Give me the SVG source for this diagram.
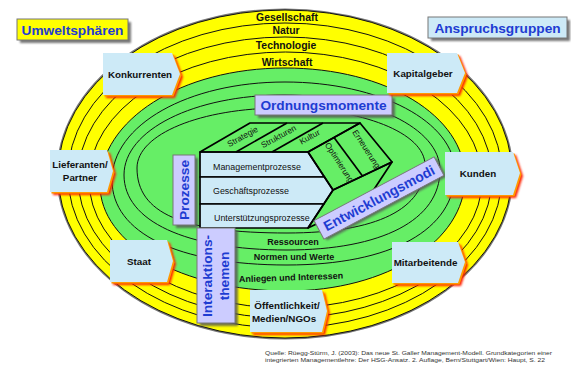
<svg xmlns="http://www.w3.org/2000/svg" width="571" height="365" viewBox="0 0 571 365">
<defs>
<filter id="blur" x="-20%" y="-20%" width="140%" height="140%"><feGaussianBlur stdDeviation="0.9"/></filter>
<style>
text{font-family:"Liberation Sans",Arial,sans-serif;}
.ring{fill:#ffff00;stroke:#111;stroke-width:1;}
.gring{fill:none;stroke:#111;stroke-width:1;}
.rt{font-size:10.4px;font-weight:bold;fill:#111;text-anchor:middle;}
.gt{font-size:9px;font-weight:bold;fill:#111;text-anchor:middle;}
.node{fill:#cdeaf7;stroke:none;}
.sh1{fill:#ff2200;filter:url(#blur);}
.sh2{fill:#ff9900;}
.nt{font-size:9.8px;font-weight:bold;fill:#111;text-anchor:middle;}
.lab{fill:#ccccff;stroke:#777;stroke-width:1;}
.lsh{fill:#555;filter:url(#blur);opacity:0.8;}
.big{font-size:13.7px;font-weight:bold;fill:#1e3cd2;text-anchor:middle;}
.blk{stroke:#000;stroke-width:1.7;stroke-linejoin:round;}
.row{fill:#cdeaf7;}
.face{fill:none;}
.pt{font-size:8.9px;fill:#111;}
.ft{font-size:8.4px;fill:#111;text-anchor:middle;}
.src{font-size:6px;fill:#333;}
</style>
</defs>
<rect width="571" height="365" fill="#ffffff"/>

<g id="rings">
<ellipse cx="285" cy="174" rx="227" ry="164" fill="none" stroke="#777" stroke-width="3"/>
<ellipse class="ring" cx="285" cy="174" rx="227" ry="164"/>
<ellipse class="ring" cx="285" cy="175.5" rx="217" ry="152.5"/>
<ellipse class="ring" cx="285" cy="177.5" rx="207" ry="140.5"/>
<ellipse class="ring" cx="285.5" cy="180" rx="196.5" ry="128"/>
<path d="M285,68 C386,68 465,116 465,178 C465,241 387,291 287,291 C182,291 100,244 100,185 C100,120 181,68 285,68Z" fill="#66ee66" stroke="#111" stroke-width="1"/>
<path class="gring" d="M285,82 C380,82 455,122 455,172 C455,230 391,265 287,265 C178,265 112,233 112,180 C112,125 188,82 285,82Z"/>
<path class="gring" d="M284,95 C371,95 440,128 440,170 C440,220 382,250 287,250 C186,250 124,221 124,175 C124,130 194,95 284,95Z"/>
<path class="gring" d="M282,108 C362,108 425,133 425,165 C425,209 377,233 287,233 C182,233 137,213 137,168 C137,134 201,108 282,108Z"/>
<text class="rt" x="287" y="20.5">Gesellschaft</text>
<text class="rt" x="286" y="33.5">Natur</text>
<text class="rt" x="286" y="48.5">Technologie</text>
<text class="rt" x="287" y="65.5">Wirtschaft</text>
<text class="gt" x="293" y="245">Ressourcen</text>
<text class="gt" x="294" y="259.5">Normen und Werte</text>
<text class="gt" x="291" y="280.5" transform="rotate(-2 291 277)">Anliegen und Interessen</text>
</g>

<g id="prozessblock">
<polygon class="blk row" points="200,152 308,152 324.4,177 200,177"/>
<polygon class="blk row" points="200,177 324.4,177 333,190 323.8,204 200,204"/>
<polygon class="blk row" points="200,204 323.8,204 308,228 200,228"/>
<polygon class="blk face" points="200,152 250,123 360,123 308,152"/>
<line class="blk" x1="236" y1="152" x2="287" y2="123"/>
<line class="blk" x1="272" y1="152" x2="323" y2="123"/>
<polygon class="blk face" points="308,152 360,123 392,162 333,190"/>
<line class="blk" x1="334" y1="137.5" x2="362.5" y2="176"/>
<polygon class="blk face" points="333,190 392,162 367,200 308,228"/>
<text class="pt" x="213" y="170">Managementprozesse</text>
<text class="pt" x="213" y="194">Geschäftsprozesse</text>
<text class="pt" x="214" y="221">Unterstützungsprozesse</text>
<text class="ft" transform="translate(244,139) rotate(-29)">Strategie</text>
<text class="ft" transform="translate(280,139) rotate(-29)">Strukturen</text>
<text class="ft" transform="translate(311,139.5) rotate(-29)">Kultur</text>
<text class="ft" transform="translate(337,164) rotate(57)">Optimierung</text>
<text class="ft" transform="translate(364,150.5) rotate(57)">Erneuerung</text>
</g>

<g id="ordnungsmomente">
<rect class="lsh" x="258" y="98" width="137" height="20"/>
<rect class="lab" x="255" y="95" width="137" height="20"/>
<text class="big" x="323.5" y="110">Ordnungsmomente</text>
</g>

<g id="prozesse">
<rect class="lsh" x="176" y="158" width="22" height="70"/>
<rect class="lab" x="173" y="155" width="22" height="70"/>
<text class="big" transform="translate(184,190) rotate(-90)" y="5">Prozesse</text>
</g>

<g id="interaktionsthemen">
<rect class="lsh" x="200" y="231" width="38" height="95"/>
<rect class="lab" x="197" y="228" width="38" height="95"/>
<g transform="translate(216,276) rotate(-90)">
<text class="big" y="-4">Interaktions-</text>
<text class="big" y="13">themen</text>
</g>
</g>

<g id="entwicklungsmodi" transform="translate(379,198) rotate(-28)">
<rect class="lsh" x="-66" y="-8" width="136" height="21"/>
<rect class="lab" x="-68" y="-10.5" width="136" height="21"/>
<text class="big" style="font-size:14px" y="5">Entwicklungsmodi</text>
</g>

<g id="konkurrenten">
<polygon class="sh1" points="106,56 175,56 183,77 175,98 106,98"/>
<polygon class="sh2" points="104.5,54.5 173.5,54.5 181.5,75.5 173.5,96.5 104.5,96.5"/>
<polygon class="node" points="103,53 172,53 180,74 172,95 103,95"/>
<text class="nt" x="140" y="77.5">Konkurrenten</text>
</g>

<g id="kapitalgeber">
<polygon class="sh1" points="390,56 460,56 468,76 460,96 390,96"/>
<polygon class="sh2" points="388.5,54.5 458.5,54.5 466.5,74.5 458.5,94.5 388.5,94.5"/>
<polygon class="node" points="387,53 457,53 465,73 457,93 387,93"/>
<text class="nt" x="423" y="77">Kapitalgeber</text>
</g>

<g id="lieferanten">
<polygon class="sh1" points="53,153 110,153 116,174 110,195 53,195"/>
<polygon class="sh2" points="51.5,151.5 108.5,151.5 114.5,172.5 108.5,193.5 51.5,193.5"/>
<polygon class="node" points="50,150 107,150 113,171 107,192 50,192"/>
<text class="nt" x="80" y="168">Lieferanten/</text>
<text class="nt" x="80" y="180.5">Partner</text>
</g>

<g id="staat">
<polygon class="sh1" points="113,243 170,243 176,264 170,285 113,285"/>
<polygon class="sh2" points="111.5,241.5 168.5,241.5 174.5,262.5 168.5,283.5 111.5,283.5"/>
<polygon class="node" points="110,240 167,240 173,261 167,282 110,282"/>
<text class="nt" x="139" y="265">Staat</text>
</g>

<g id="kunden">
<polygon class="sh1" points="448,155 516,155 523,176 516,198 448,198"/>
<polygon class="sh2" points="446.5,153.5 514.5,153.5 521.5,174.5 514.5,196.5 446.5,196.5"/>
<polygon class="node" points="445,152 513,152 520,173 513,195 445,195"/>
<text class="nt" x="478" y="177">Kunden</text>
</g>

<g id="mitarbeitende">
<polygon class="sh1" points="395,245 461,245 468,265 461,286 395,286"/>
<polygon class="sh2" points="393.5,243.5 459.5,243.5 466.5,263.5 459.5,284.5 393.5,284.5"/>
<polygon class="node" points="392,242 458,242 465,262 458,283 392,283"/>
<text class="nt" x="425.5" y="266">Mitarbeitende</text>
</g>

<g id="oeffentlichkeit">
<polygon class="sh1" points="253,293 325,293 330,314 325,335 253,335"/>
<polygon class="sh2" points="251.5,291.5 323.5,291.5 328.5,312.5 323.5,333.5 251.5,333.5"/>
<polygon class="node" points="250,290 322,290 327,311 322,332 250,332"/>
<text class="nt" x="287" y="308.5">Öffentlichkeit/</text>
<text class="nt" x="284" y="321.5">Medien/NGOs</text>
</g>

<g id="umweltsphaeren">
<rect class="lsh" x="20" y="22" width="111" height="21"/>
<rect x="17" y="19" width="111" height="21" fill="#ffff00" stroke="#777" stroke-width="1"/>
<text class="big" x="72.5" y="34.5">Umweltsphären</text>
</g>

<g id="anspruchsgruppen">
<rect class="lsh" x="431" y="20" width="139" height="21"/>
<rect x="428" y="17" width="139" height="21" fill="#cdeaf7" stroke="#777" stroke-width="1"/>
<text class="big" x="497.5" y="32.5">Anspruchsgruppen</text>
</g>

<g id="quelle">
<text class="src" x="265" y="354.5" textLength="287" lengthAdjust="spacingAndGlyphs">Quelle: Rüegg-Stürm, J. (2003): Das neue St. Galler Management-Modell. Grundkategorien einer</text>
<text class="src" x="265" y="361.5" textLength="280" lengthAdjust="spacingAndGlyphs">integrierten Managementlehre: Der HSG-Ansatz. 2. Auflage, Bern/Stuttgart/Wien: Haupt, S. 22</text>
</g>
</svg>
